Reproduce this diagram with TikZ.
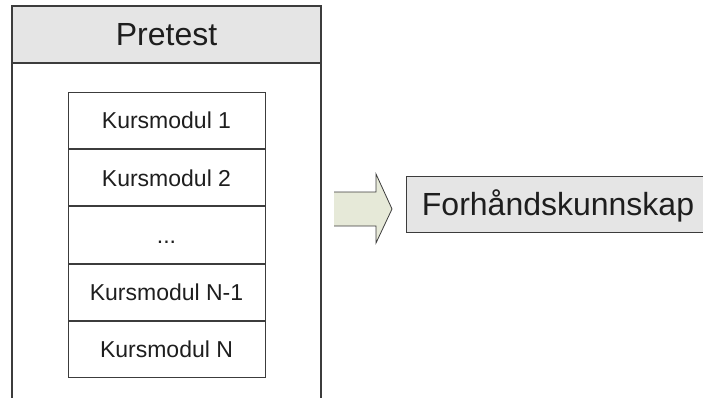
\documentclass[tikz,border=0pt]{standalone}
\usepackage{fontspec}
\setmainfont{Liberation Sans}
\usetikzlibrary{positioning}
\definecolor{linegray}{HTML}{3C3C3C}
\definecolor{boxgray}{HTML}{E5E5E5}
\definecolor{arrowfill}{HTML}{E6E9D8}
\definecolor{textdark}{HTML}{1E1E1E}

\tikzset{
  module/.style={draw=linegray, line width=1pt, minimum width=197pt, minimum height=56.2pt, inner sep=0pt, text height=16.5pt, text depth=0pt, font=\fontsize{23}{23}\selectfont, text=textdark},
  title/.style={draw=linegray, line width=1.3pt, fill=boxgray, inner sep=0pt, text height=23pt, text depth=0pt, font=\fontsize{32}{32}\selectfont, text=textdark}
}

\begin{document}
\begin{tikzpicture}[x=1pt, y=-1pt]
  \useasboundingbox (0,0) rectangle (703,398);
  \clip (0,0) rectangle (703,398);
  % container
  \draw [linegray, line width=1.5pt] (12,400) -- (12,6) -- (321,6) -- (321,400);
  \node (pre) [title, minimum width=309pt, minimum height=57pt] at (166.5,34.5) {Pretest};
  % modules
  \node (m1) [module, anchor=north] at (166.5,92) {Kursmodul 1};
  \node (m2) [module, below=0pt of m1] {Kursmodul 2};
  \node (m3) [module, below=0pt of m2] {...};
  \node (m4) [module, below=0pt of m3] {Kursmodul N-1};
  \node (m5) [module, below=0pt of m4] {Kursmodul N};
  % arrow
  \coordinate (tail) at (334,209);
  \fill [arrowfill] (tail) ++(0,-17) -- ++(42,0) -- ++(0,-18) -- (392,209) -- (376,243) -- ++(0,-17) -- ++(-42,0) -- cycle;
  \draw [linegray, line width=0.8pt] (tail) ++(0,-17) -- ++(42,0) -- ++(0,-18) -- (392,209) -- (376,243) -- ++(0,-17) -- ++(-42,0);
  \node (fk) [title, line width=1pt, minimum width=304pt, minimum height=56pt] at (558,204) {Forhåndskunnskap};
\end{tikzpicture}
\end{document}
